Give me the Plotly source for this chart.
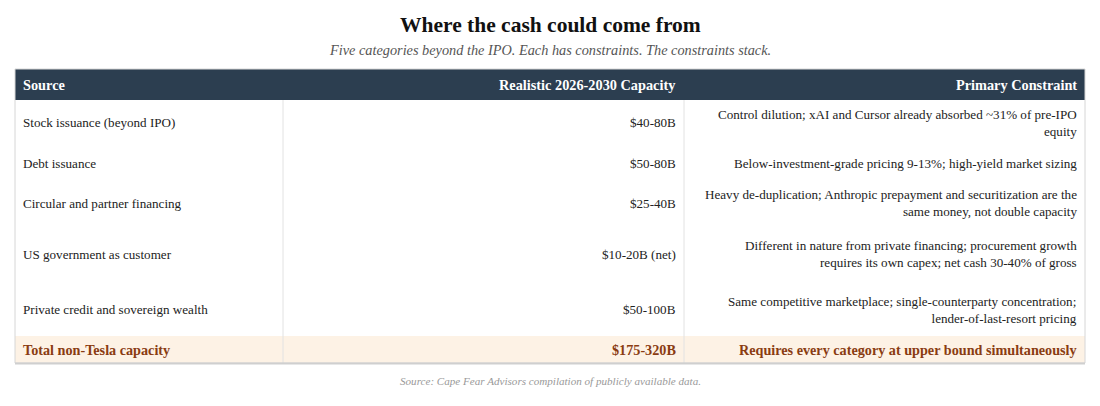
import plotly.graph_objects as go

# ---- data ----
headers = ["Source", "Realistic 2026-2030 Capacity", "Primary Constraint"]
sources = [
    "Stock issuance (beyond IPO)",
    "Debt issuance",
    "Circular and partner financing",
    "US government as customer",
    "Private credit and sovereign wealth",
]
capacities = ["$40-80B", "$50-80B", "$25-40B", "$10-20B (net)", "$50-100B"]
constraints = [
    "Control dilution; xAI and Cursor already absorbed ~31% of pre-IPO<br>equity",
    "Below-investment-grade pricing 9-13%; high-yield market sizing",
    "Heavy de-duplication; Anthropic prepayment and securitization are the<br>same money, not double capacity",
    "Different in nature from private financing; procurement growth<br>requires its own capex; net cash 30-40% of gross",
    "Same competitive marketplace; single-counterparty concentration;<br>lender-of-last-resort pricing",
]
total_row = ["Total non-Tesla capacity", "$175-320B", "Requires every category at upper bound simultaneously"]

title = "Where the cash could come from"
subtitle = "Five categories beyond the IPO. Each has constraints. The constraints stack."
source_note = "Source: Cape Fear Advisors compilation of publicly available data."

# ---- layout / style ----
PAGE_W, PAGE_H = 1100, 406
BODY_MARGIN = 8  # browser default body margin
W, H = PAGE_W - 2 * BODY_MARGIN, PAGE_H - 2 * BODY_MARGIN
FONT = "Liberation Serif"
table_left = 15
col_widths = [268, 401, 401]
table_top = 69
header_h = 31
row_heights = [45, 36, 44, 58, 53]
total_h = 27
pad = 6
aligns = ["left", "right", "right"]
BODY_SIZE = 13.1
HEAD_SIZE = 14.3
TOTAL_SIZE = 14.2

HEADER_BG = "#2c3e50"
TOTAL_BG = "#fdf2e5"
TOTAL_FG = "#8a3c12"
BODY_FG = "#222222"
GRID = "#e2e2e2"
BORDER = "#d6d6d6"

col_edges = [table_left]
for w in col_widths:
    col_edges.append(col_edges[-1] + w)
table_right = col_edges[-1]

row_tops = [table_top + header_h]
for h in row_heights:
    row_tops.append(row_tops[-1] + h)
total_top = row_tops[-1]
table_bottom = total_top + total_h

fig = go.Figure()
shapes = []
annotations = []


def cell_x(ci):
    if aligns[ci] == "left":
        return col_edges[ci] + pad, "left"
    return col_edges[ci + 1] - pad, "right"


# header background
shapes.append(dict(type="rect", xref="x", yref="y", x0=table_left, x1=table_right,
                   y0=table_top, y1=table_top + header_h, fillcolor=HEADER_BG, line_width=0, layer="below"))
# total background
shapes.append(dict(type="rect", xref="x", yref="y", x0=table_left, x1=table_right,
                   y0=total_top, y1=table_bottom, fillcolor=TOTAL_BG, line_width=0, layer="below"))
# column separators (body)
for e in col_edges[1:-1]:
    shapes.append(dict(type="line", xref="x", yref="y", x0=e, x1=e, y0=table_top + header_h,
                       y1=table_bottom, line=dict(color=GRID, width=1)))
# outer border
shapes.append(dict(type="rect", xref="x", yref="y", x0=table_left, x1=table_right,
                   y0=table_top, y1=table_bottom, line=dict(color=BORDER, width=1), fillcolor="rgba(0,0,0,0)"))
shapes.append(dict(type="line", xref="x", yref="y", x0=table_left, x1=table_right,
                   y0=table_bottom + 0.5, y1=table_bottom + 0.5, line=dict(color="#cfcfcf", width=2)))

# header text
for ci, htxt in enumerate(headers):
    x, anchor = cell_x(ci)
    annotations.append(dict(x=x, y=table_top + header_h / 2, xref="x", yref="y", text="<b>" + htxt + "</b>",
                            xanchor=anchor, yanchor="middle", align=anchor, showarrow=False,
                            font=dict(family=FONT, size=HEAD_SIZE, color="white")))

# body rows
for ri in range(len(sources)):
    yc = row_tops[ri] + row_heights[ri] / 2
    for ci, txt in enumerate([sources[ri], capacities[ri], constraints[ri]]):
        x, anchor = cell_x(ci)
        annotations.append(dict(x=x, y=yc, xref="x", yref="y", text=txt,
                                xanchor=anchor, yanchor="middle", align=anchor, showarrow=False,
                                font=dict(family=FONT, size=BODY_SIZE, color=BODY_FG)))

# total row
yc = total_top + total_h / 2
for ci, txt in enumerate(total_row):
    x, anchor = cell_x(ci)
    annotations.append(dict(x=x, y=yc, xref="x", yref="y", text="<b>" + txt + "</b>",
                            xanchor=anchor, yanchor="middle", align=anchor, showarrow=False,
                            font=dict(family=FONT, size=TOTAL_SIZE, color=TOTAL_FG)))

# title, subtitle, source
annotations.append(dict(x=PAGE_W / 2, y=25, xref="x", yref="y", text="<b>" + title + "</b>", showarrow=False,
                        xanchor="center", yanchor="middle", font=dict(family=FONT, size=21.5, color="#111111")))
annotations.append(dict(x=PAGE_W / 2, y=50, xref="x", yref="y", text="<i>" + subtitle + "</i>", showarrow=False,
                        xanchor="center", yanchor="middle", font=dict(family=FONT, size=14.3, color="#555555")))
annotations.append(dict(x=PAGE_W / 2, y=381, xref="x", yref="y", text="<i>" + source_note + "</i>", showarrow=False,
                        xanchor="center", yanchor="middle", font=dict(family=FONT, size=11.1, color="#999999")))

# axes in page-pixel units (the div sits inside the browser's body margin)
fig.update_layout(
    width=W, height=H, margin=dict(l=0, r=0, t=0, b=0),
    paper_bgcolor="white", plot_bgcolor="white",
    xaxis=dict(range=[BODY_MARGIN, BODY_MARGIN + W], visible=False, fixedrange=True),
    yaxis=dict(range=[BODY_MARGIN + H, BODY_MARGIN], visible=False, fixedrange=True),
    shapes=shapes, annotations=annotations, showlegend=False,
)

fig.write_html("out.html", config={"displayModeBar": False})
